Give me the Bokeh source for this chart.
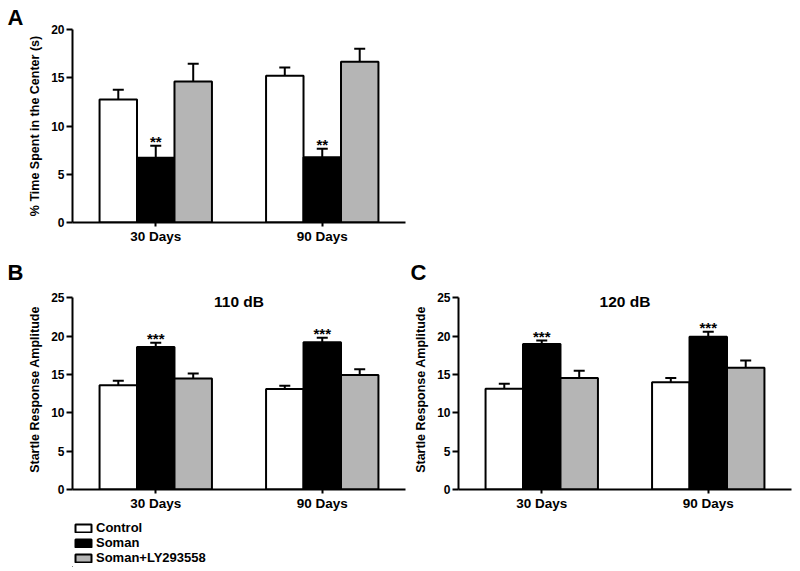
from bokeh.plotting import figure
from bokeh.layouts import column, row
from bokeh.models import (ColumnDataSource, FactorRange, Range1d, FixedTicker,
                          Label, Legend, LegendItem, Title)
from bokeh.transform import dodge
from bokeh.core.properties import value
from bokeh.embed import file_html
from bokeh.resources import INLINE

# ---------------- data ----------------
categories = ["30 Days", "90 Days"]
groups = ["Control", "Soman", "Soman+LY293558"]

# Panel A: % time spent in the center (s)
a_control = [12.75, 15.2]
a_control_sem = [1.0, 0.85]
a_soman = [6.7, 6.77]
a_soman_sem = [1.25, 0.87]
a_ly = [14.6, 16.65]
a_ly_sem = [1.85, 1.35]
a_stars = ["**", "**"]

# Panel B: 110 dB startle
b_control = [13.6, 13.1]
b_control_sem = [0.6, 0.45]
b_soman = [18.6, 19.2]
b_soman_sem = [0.55, 0.6]
b_ly = [14.5, 14.95]
b_ly_sem = [0.65, 0.75]
b_stars = ["***", "***"]

# Panel C: 120 dB startle
c_control = [13.15, 14.0]
c_control_sem = [0.65, 0.55]
c_soman = [19.0, 19.95]
c_soman_sem = [0.45, 0.65]
c_ly = [14.55, 15.9]
c_ly_sem = [0.95, 0.95]
c_stars = ["***", "***"]

a_ticks = [0, 5, 10, 15, 20]
bc_ticks = [0, 5, 10, 15, 20, 25]

FONT = "Liberation Sans"
FONT_V = value(FONT)
COLORS = ["white", "black", "#b5b5b5"]
OFFS = [-0.225, 0.0, 0.225]
BW = 0.225


def make_panel(width, height, mb_left, mb_right, mb_top, mb_bottom,
               y_end, ticks, ylabel, means, sems, stars, letter, letter_offset,
               letter_standoff, title=None, title_y=None):
    p = figure(width=width, height=height, x_range=FactorRange(*categories, range_padding=0),
               y_range=Range1d(0, y_end), output_backend="svg", toolbar_location=None,
               min_border_left=mb_left, min_border_right=mb_right,
               min_border_top=mb_top, min_border_bottom=mb_bottom)
    p.outline_line_color = None
    p.xgrid.grid_line_color = None
    p.ygrid.grid_line_color = None
    p.background_fill_color = "white"
    p.border_fill_color = "white"

    src = ColumnDataSource(dict(cat=categories))
    for i, (m, s) in enumerate(zip(means, sems)):
        src.data[f"m{i}"] = m
        src.data[f"e{i}"] = [a + b for a, b in zip(m, s)]
    for i in range(3):
        xd = dodge("cat", OFFS[i], range=p.x_range)
        p.vbar(x=xd, top=f"m{i}", width=BW, source=src, fill_color=COLORS[i],
               line_color="black", line_width=2)
        p.segment(x0=xd, y0=f"m{i}", x1=xd, y1=f"e{i}", source=src,
                  line_color="black", line_width=2)
        p.scatter(x=xd, y=f"e{i}", source=src, marker="dash", size=11,
                  line_color="black", line_width=2)
    src.data["stars"] = stars
    p.text(x=dodge("cat", OFFS[1], range=p.x_range), y="e1", text="stars", source=src,
           text_align="center", text_baseline="alphabetic", y_offset=-4,
           text_font=FONT_V, text_font_style="bold", text_font_size="15px", text_color="black")

    # axes
    p.yaxis.ticker = FixedTicker(ticks=ticks)
    p.yaxis.bounds = (0, ticks[-1])
    for ax in (p.xaxis, p.yaxis):
        ax.axis_line_width = 2
        ax.axis_line_color = "black"
        ax.major_tick_line_width = 2
        ax.major_tick_line_color = "black"
        ax.major_tick_in = 0
        ax.minor_tick_line_color = None
        ax.major_label_text_font = FONT
        ax.major_label_text_font_style = "bold"
        ax.major_label_text_color = "black"
        ax.major_label_standoff = 2
    p.yaxis.major_tick_out = 6
    p.xaxis.major_tick_out = 4
    p.yaxis.major_label_text_font_size = "12px"
    p.xaxis.major_label_text_font_size = "13.5px"
    p.yaxis.axis_label = ylabel
    p.yaxis.axis_label_text_font = FONT
    p.yaxis.axis_label_text_font_style = "bold"
    p.yaxis.axis_label_text_font_size = "12.5px"
    p.yaxis.axis_label_text_color = "black"
    p.yaxis.axis_label_standoff = 6

    p.title = Title(text=letter, align="left", offset=letter_offset, standoff=letter_standoff,
                    text_font=FONT, text_font_style="bold", text_font_size="22px",
                    text_color="black")
    if title:
        p.add_layout(Label(x=1.0, y=title_y, x_units="data", y_units="screen",
                           text=title, text_font=FONT, text_font_style="bold",
                           text_font_size="15.5px", text_color="black",
                           text_align="center", text_baseline="alphabetic"))
    return p


pA = make_panel(415, 252, 72, 10, 29, 30, 20, a_ticks,
                "% Time Spent in the Center (s)",
                [a_control, a_soman, a_ly], [a_control_sem, a_soman_sem, a_ly_sem],
                a_stars, "A", -65, 0)

pB = make_panel(407, 265, 72, 2, 36, 28, 26.1, bc_ticks,
                "Startle Response Amplitude",
                [b_control, b_soman, b_ly], [b_control_sem, b_soman_sem, b_ly_sem],
                b_stars, "B", -65, 10, title="110 dB", title_y=188)

pC = make_panel(385, 311, 51, 1, 36, 74, 26.1, bc_ticks,
                "Startle Response Amplitude",
                [c_control, c_soman, c_ly], [c_control_sem, c_soman_sem, c_ly_sem],
                c_stars, "C", -48, 10, title="120 dB", title_y=188)

# legend panel under B (proxy renderers lie outside the visible ranges)
pL = figure(width=407, height=50, output_backend="svg", toolbar_location=None,
            x_range=Range1d(10, 11), y_range=Range1d(10, 11),
            x_axis_location=None, y_axis_location=None,
            min_border_left=69, min_border_right=2, min_border_top=0, min_border_bottom=0)
pL.outline_line_color = None
pL.xgrid.grid_line_color = None
pL.ygrid.grid_line_color = None
leg_src = ColumnDataSource(dict(x=[0], top=[1]))
leg_renderers = [pL.vbar(x="x", top="top", width=1, source=leg_src, fill_color=c,
                         line_color="black", line_width=2) for c in COLORS]
legend = Legend(items=[LegendItem(label=g, renderers=[r]) for g, r in zip(groups, leg_renderers)],
                location=(1, 2), orientation="vertical",
                glyph_width=20, glyph_height=10, label_height=15, spacing=0,
                label_standoff=3, padding=0, margin=0,
                border_line_color=None, background_fill_alpha=0,
                label_text_font=FONT, label_text_font_style="bold",
                label_text_font_size="13px", label_text_color="black")
pL.add_layout(legend, "center")

layout = column(pA, row(column(pB, pL, spacing=0), pC, spacing=0), spacing=0)

open("out.html", "w").write(file_html(layout, INLINE))
